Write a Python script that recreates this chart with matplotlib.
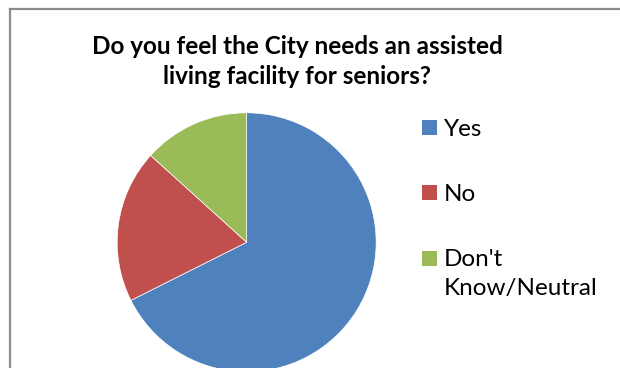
import matplotlib
matplotlib.use("Agg")
from matplotlib import pyplot as plt
from matplotlib.lines import Line2D
from matplotlib.patches import Rectangle

# survey answers (percent)
labels = ["Yes", "No", "Don't\nKnow/Neutral"]
values = [67.6, 19.1, 13.3]
colors = ["#4F81BD", "#C0504D", "#9BBB59"]
title = "Do you feel the City needs an assisted\nliving facility for seniors?"

plt.rcParams["font.family"] = ["Lato", "DejaVu Sans"]

W, H = 620, 368
fig = plt.figure(figsize=(W / 100, H / 100), dpi=100)

# frame of the chart area (only left and top edges are inside the picture)
fig.add_artist(Line2D([0.0161, 0.0161], [0, 0.976], transform=fig.transFigure, color="#8c8c8c", lw=1.6))
fig.add_artist(Line2D([0.0161, 1.0], [0.976, 0.976], transform=fig.transFigure, color="#8c8c8c", lw=1.6))

ax = fig.add_axes([0.189, -0.0103, 0.4177, 0.7038])
wedges, _ = ax.pie(values, colors=colors, startangle=90, counterclock=False,
                   radius=1, wedgeprops=dict(edgecolor="white", linewidth=0.5))
ax.set_xlim(-1, 1)
ax.set_ylim(-1, 1)
ax.set_aspect("auto")
ax.axis("off")

fig.text(0.479, 0.833, title, ha="center", va="center", fontsize=17.5, fontweight="bold",
         linespacing=1.38)

# legend, laid out like the Excel one: first text line level with the square
row_top = 119.5   # px from top of the first square
row_step = 65.5
box = 15
for i, (lab, col) in enumerate(zip(labels, colors)):
    top = row_top + i * row_step
    fig.add_artist(Rectangle((422 / W, 1 - (top + box) / H), box / W, box / H,
                             transform=fig.transFigure, facecolor=col, edgecolor="none"))
    fig.text(444 / W, 1 - (top - 1) / H, lab, ha="left", va="top", fontsize=17.5,
             linespacing=1.45)

fig.savefig("out.png", dpi=100)
